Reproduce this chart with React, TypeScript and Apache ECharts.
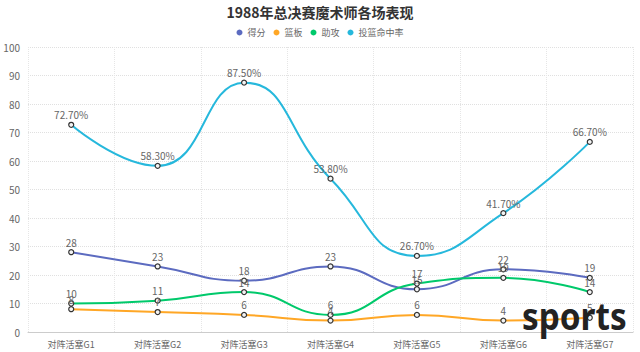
import React, { useEffect, useRef } from "react";
import * as echarts from "echarts";

const categories = ["对阵活塞G1", "对阵活塞G2", "对阵活塞G3", "对阵活塞G4", "对阵活塞G5", "对阵活塞G6", "对阵活塞G7"];
const points = [28, 23, 18, 23, 15, 22, 19];
const rebounds = [8, 7, 6, 4, 6, 4, 5];
const assists = [10, 11, 14, 6, 17, 19, 14];
const fgPct = [72.7, 58.3, 87.5, 53.8, 26.7, 41.7, 66.7];
const seriesNames = ["得分", "篮板", "助攻", "投篮命中率"];

const colors = ["#5c6bc0", "#ffa726", "#00c96b", "#26b8dc"];

export default function App() {
  const ref = useRef<HTMLDivElement>(null);
  useEffect(() => {
    if (!ref.current) return;
    const chart = echarts.init(ref.current, undefined, { renderer: "svg" });
    const mk = (name: string, data: number[], color: string, pct = false) => ({
      name,
      type: "line",
      smooth: true,
      data,
      symbol: "circle",
      symbolSize: 5,
      lineStyle: { color, width: 2 },
      itemStyle: { color: "#f4f4f4", borderColor: "#333", borderWidth: 1.2 },
      label: {
        show: true,
        position: "top",
        distance: 2,
        color: "#666",
        fontSize: 10,
        formatter: pct ? (p: any) => p.value.toFixed(2) + "%" : "{c}",
      },
    });
    chart.setOption({
      animation: false,
      color: colors,
      textStyle: { fontFamily: "'Noto Sans CJK SC', 'Noto Sans', sans-serif" },
      title: {
        text: "1988年总决赛魔术师各场表现",
        left: "center",
        top: 0,
        textStyle: { fontSize: 14, fontWeight: "bold", color: "#333" },
      },
      legend: {
        top: 23,
        left: "center",
        icon: "circle",
        itemWidth: 6,
        itemHeight: 6,
        itemGap: 8,
        textStyle: { fontSize: 9, color: "#666" },
        data: seriesNames.map((n, i) => ({ name: n, itemStyle: { color: colors[i], borderWidth: 0 } })),
      },
      grid: { left: 28, right: 7, top: 47, bottom: 20 },
      xAxis: {
        type: "category",
        data: categories,
        boundaryGap: true,
        axisLine: { lineStyle: { color: "#ccc" } },
        axisTick: { show: false },
        axisLabel: { color: "#666", fontSize: 9, margin: 8 },
        splitLine: { show: true, lineStyle: { type: "dotted", color: "#e6e6e6" } },
      },
      yAxis: {
        type: "value",
        min: 0,
        max: 100,
        interval: 10,
        axisLine: { show: false },
        axisTick: { show: false },
        axisLabel: { color: "#666", fontSize: 10, margin: 8 },
        splitLine: { lineStyle: { type: "dotted", color: "#e0e0e0" } },
      },
      graphic: [
        {
          type: "text",
          x: 522,
          y: 315,
          scaleX: 0.9,
          style: {
            text: "sports",
            fontSize: 37,
            fontWeight: "bold",
            fontFamily: "'Noto Sans', sans-serif",
            fill: "#222",
            verticalAlign: "middle",
          },
          z: 100,
        },
      ],
      series: [
        mk(seriesNames[0], points, colors[0]),
        mk(seriesNames[1], rebounds, colors[1]),
        mk(seriesNames[2], assists, colors[2]),
        mk(seriesNames[3], fgPct, colors[3], true),
      ],
    });
    return () => chart.dispose();
  }, []);
  return <div ref={ref} style={{ width: 640, height: 352, position: "absolute", left: 0, top: 0 }} />;
}
